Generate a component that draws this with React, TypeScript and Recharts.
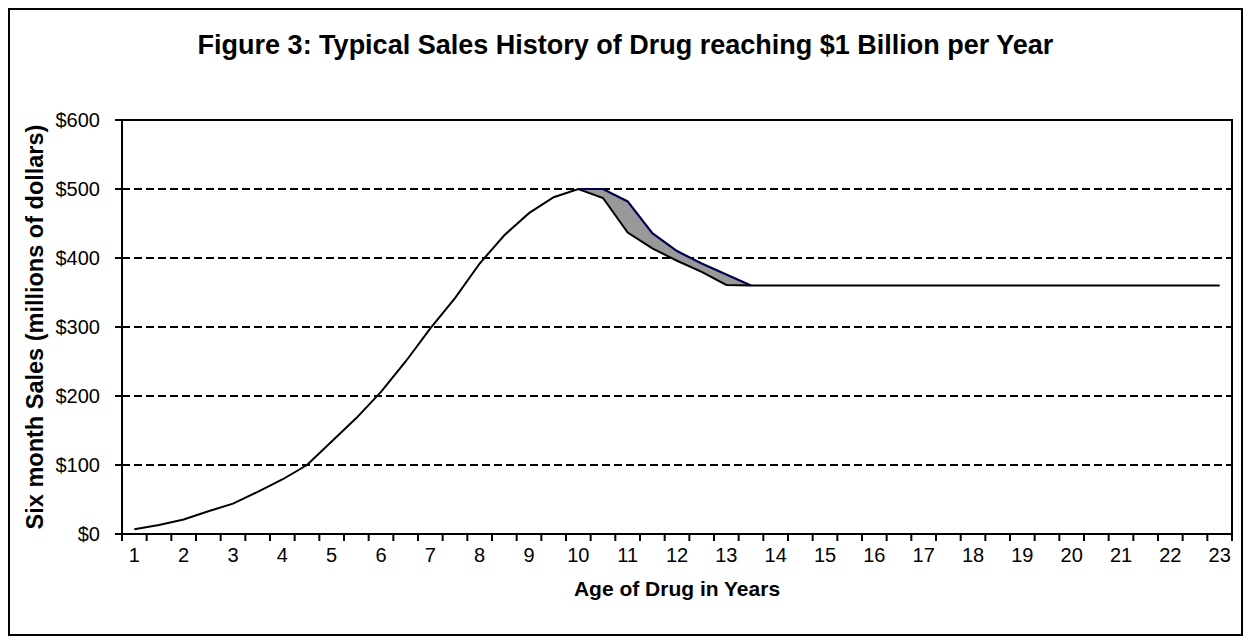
import {
  ComposedChart,
  Line,
  Area,
  XAxis,
  YAxis,
  CartesianGrid,
  ReferenceArea,
  Label,
} from "recharts";

const FONT = "Arial, 'Liberation Sans', Helvetica, sans-serif";

// age of the drug, in half-year steps
const ages = [
  1, 1.5, 2, 2.5, 3, 3.5, 4, 4.5, 5, 5.5, 6, 6.5, 7, 7.5, 8, 8.5, 9, 9.5, 10,
  10.5, 11, 11.5, 12, 12.5, 13, 13.5, 14, 14.5, 15, 15.5, 16, 16.5, 17, 17.5,
  18, 18.5, 19, 19.5, 20, 20.5, 21, 21.5, 22, 22.5, 23,
];

// six month sales, millions of dollars
const sales = [
  7, 13, 21, 33, 44, 61, 79, 100, 134, 168, 206, 250, 298, 342, 392, 433, 465,
  488, 500, 487, 437, 414, 396, 380, 361, 360, 360, 360, 360, 360, 360, 360,
  360, 360, 360, 360, 360, 360, 360, 360, 360, 360, 360, 360, 360,
];

// shaded band after the peak
const bandAges = [10, 10.5, 11, 11.5, 12, 12.5, 13, 13.5];
const bandLow = [500, 487, 437, 414, 396, 380, 361, 360];
const bandHigh = [500, 500, 482, 436, 410, 392, 376, 360];

const yTicks = [0, 100, 200, 300, 400, 500, 600];

const CHART_W = 1231;
const CHART_H = 624;
const Y_AXIS_W = 112;
const RIGHT = 9;
const PLOT_W = CHART_W - Y_AXIS_W - RIGHT;

// tick marks sit between the half-year categories
const xDomain = [ages[0] - 0.25, ages[ages.length - 1] + 0.25];
const halfStep = (PLOT_W / (xDomain[1] - xDomain[0])) * 0.25;

const data = ages.map((age, i) => {
  const j = bandAges.indexOf(age);
  return {
    age,
    sales: sales[i],
    band: j >= 0 ? [bandLow[j], bandHigh[j]] : null,
    upper: j >= 0 ? bandHigh[j] : null,
  };
});

function AgeTick({ x, y, payload, index }: any) {
  const v = payload.value;
  const last = index === ages.length - 1;
  return (
    <g>
      <line x1={x - halfStep} y1={y} x2={x - halfStep} y2={y + 7} stroke="#000" strokeWidth={2} />
      {last && (
        <line x1={x + halfStep} y1={y} x2={x + halfStep} y2={y + 7} stroke="#000" strokeWidth={2} />
      )}
      {Number.isInteger(v) && (
        <text
          x={x}
          y={y + 21}
          textAnchor="middle"
          dominantBaseline="central"
          fontFamily={FONT}
          fontSize={20}
          fill="#000"
        >
          {v}
        </text>
      )}
    </g>
  );
}

export default function App() {
  return (
    <div
      style={{
        position: "relative",
        width: CHART_W,
        height: CHART_H,
        border: "2px solid #000",
        background: "#fff",
        fontFamily: FONT,
      }}
    >
      <div
        style={{
          position: "absolute",
          top: 20,
          left: 0,
          width: "100%",
          textAlign: "center",
          fontSize: 27,
          fontWeight: "bold",
          lineHeight: "30px",
        }}
      >
        Figure 3: Typical Sales History of Drug reaching $1 Billion per Year
      </div>
      <ComposedChart
        width={CHART_W}
        height={CHART_H}
        data={data}
        margin={{ top: 110, right: RIGHT, left: 0, bottom: 20 }}
      >
        <CartesianGrid
          vertical={false}
          stroke="#000"
          strokeWidth={1.8}
          strokeDasharray="8 4"
        />
        <XAxis
          dataKey="age"
          type="number"
          domain={xDomain}
          ticks={ages}
          interval={0}
          allowDataOverflow
          height={80}
          tickLine={false}
          tickSize={0}
          tickMargin={0}
          stroke="#000"
          strokeWidth={2}
          tick={<AgeTick />}
        >
          <Label
            content={({ viewBox }: any) => (
              <text
                x={viewBox.x + viewBox.width / 2}
                y={viewBox.y + 54}
                textAnchor="middle"
                dominantBaseline="central"
                fontFamily={FONT}
                fontSize={21}
                fontWeight="bold"
                fill="#000"
              >
                Age of Drug in Years
              </text>
            )}
          />
        </XAxis>
        <YAxis
          domain={[0, 600]}
          ticks={yTicks}
          width={Y_AXIS_W}
          tickSize={7}
          tickMargin={15}
          stroke="#000"
          strokeWidth={2}
          tick={{ fontSize: 20, fill: "#000", fontFamily: FONT }}
          tickFormatter={(v) => `$${v}`}
        >
          <Label
            content={({ viewBox }: any) => (
              <text
                x={25}
                y={viewBox.y + viewBox.height / 2}
                textAnchor="middle"
                dominantBaseline="central"
                transform={`rotate(-90, 25, ${viewBox.y + viewBox.height / 2})`}
                fontFamily={FONT}
                fontSize={23.5}
                fontWeight="bold"
                fill="#000"
              >
                Six month Sales (millions of dollars)
              </text>
            )}
          />
        </YAxis>
        <Area
          type="linear"
          dataKey="band"
          fill="#999999"
          fillOpacity={1}
          stroke="none"
          isAnimationActive={false}
        />
        <Line
          type="linear"
          dataKey="upper"
          stroke="#000050"
          strokeWidth={2.2}
          dot={false}
          isAnimationActive={false}
        />
        <Line
          type="linear"
          dataKey="sales"
          stroke="#000"
          strokeWidth={2}
          dot={false}
          isAnimationActive={false}
        />
        <ReferenceArea
          x1={xDomain[0]}
          x2={xDomain[1]}
          y1={0}
          y2={600}
          fill="none"
          stroke="#000"
          strokeWidth={2}
        />
      </ComposedChart>
    </div>
  );
}
